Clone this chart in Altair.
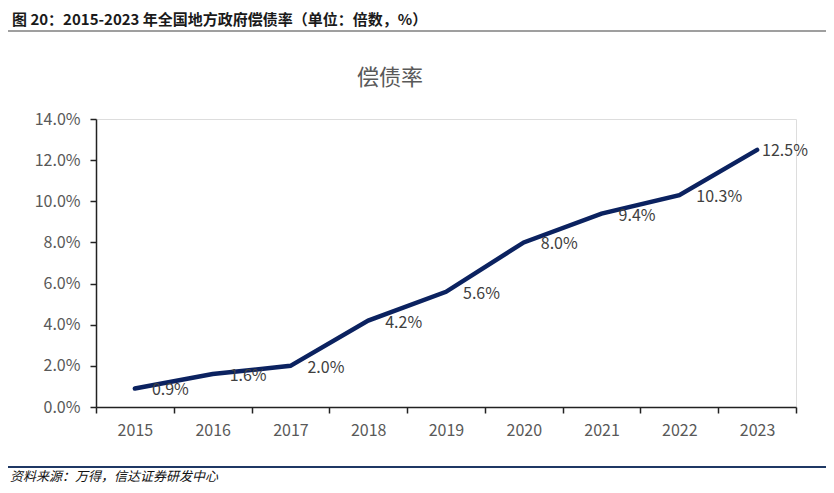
import altair as alt
import pandas as pd

years = ["2015", "2016", "2017", "2018", "2019", "2020", "2021", "2022", "2023"]
ratio = [0.9, 1.6, 2.0, 4.2, 5.6, 8.0, 9.4, 10.3, 12.5]

header = "图 20：2015-2023 年全国地方政府偿债率（单位：倍数，%）"
subtitle = "偿债率"
source = "资料来源：万得，信达证券研发中心"

df = pd.DataFrame({"year": years, "ratio": ratio})
df["label"] = [f"{v:.1f}%" for v in ratio]

FONT = "Noto Sans CJK SC"
NAVY = "#0B2260"

x = alt.X("year:N", title=None, sort=years,
          scale=alt.Scale(paddingInner=0, paddingOuter=0),
          axis=alt.Axis(labelAngle=0, tickBand="extent", labelFontSize=16,
                        labelColor="#595959", labelFont=FONT, labelPadding=9,
                        domainColor="#222222", tickColor="#222222", tickSize=6,
                        domainWidth=1.5, tickWidth=1.5, grid=False))
y = alt.Y("ratio:Q", title=None,
          scale=alt.Scale(domain=[0, 14]),
          axis=alt.Axis(values=[0, 2, 4, 6, 8, 10, 12, 14],
                        labelExpr="format(datum.value, '.1f') + '%'",
                        labelFontSize=16, labelColor="#595959", labelFont=FONT,
                        labelPadding=10, domainColor="#222222", tickColor="#222222",
                        tickSize=6, domainWidth=1.5, tickWidth=1.5, grid=False))

base = alt.Chart(df)

line = base.mark_line(color=NAVY, strokeWidth=4.5, strokeCap="round").encode(x=x, y=y)

labels = base.transform_filter(alt.datum.year != "2023").mark_text(
    align="left", baseline="middle", dx=17, dy=2, fontSize=16, font=FONT, color="#404040"
).encode(x=alt.X("year:N", sort=years), y="ratio:Q", text="label:N")

label_last = base.transform_filter(alt.datum.year == "2023").mark_text(
    align="left", baseline="middle", dx=5, dy=1, fontSize=16, font=FONT, color="#404040"
).encode(x=alt.X("year:N", sort=years), y="ratio:Q", text="label:N")

ann = pd.DataFrame({"t": [0]})
header_t = alt.Chart(ann).mark_text(
    align="left", baseline="middle", fontSize=15, fontWeight="bold", font=FONT, color="#1a1a1a"
).encode(x=alt.value(-84), y=alt.value(-99), text=alt.value(header))

header_rule = alt.Chart(ann).mark_rule(color="#7f7f7f", strokeWidth=1.5).encode(
    x=alt.value(-88), x2=alt.value(732), y=alt.value(-88))

title_t = alt.Chart(ann).mark_text(
    align="center", baseline="middle", fontSize=22, font=FONT, color="#595959"
).encode(x=alt.value(294), y=alt.value(-41), text=alt.value(subtitle))

bottom_rule = alt.Chart(ann).mark_rule(color="#1F3864", strokeWidth=2).encode(
    x=alt.value(-88), x2=alt.value(732), y=alt.value(348))

source_t = alt.Chart(ann).mark_text(
    align="left", baseline="middle", fontSize=13, font=FONT, fontStyle="italic", color="#111111"
).encode(x=alt.value(-86), y=alt.value(358), text=alt.value(source))

chart = alt.layer(
    line, labels, label_last, header_t, header_rule, title_t, bottom_rule, source_t
).properties(
    width=700, height=288,
    autosize=alt.AutoSizeParams(type="none"),
    padding={"left": 88, "top": 111, "right": 30, "bottom": 78},
).configure_view(stroke=None).configure(background="white")

chart.save("out.html", embed_options={"renderer": "svg", "actions": False})
